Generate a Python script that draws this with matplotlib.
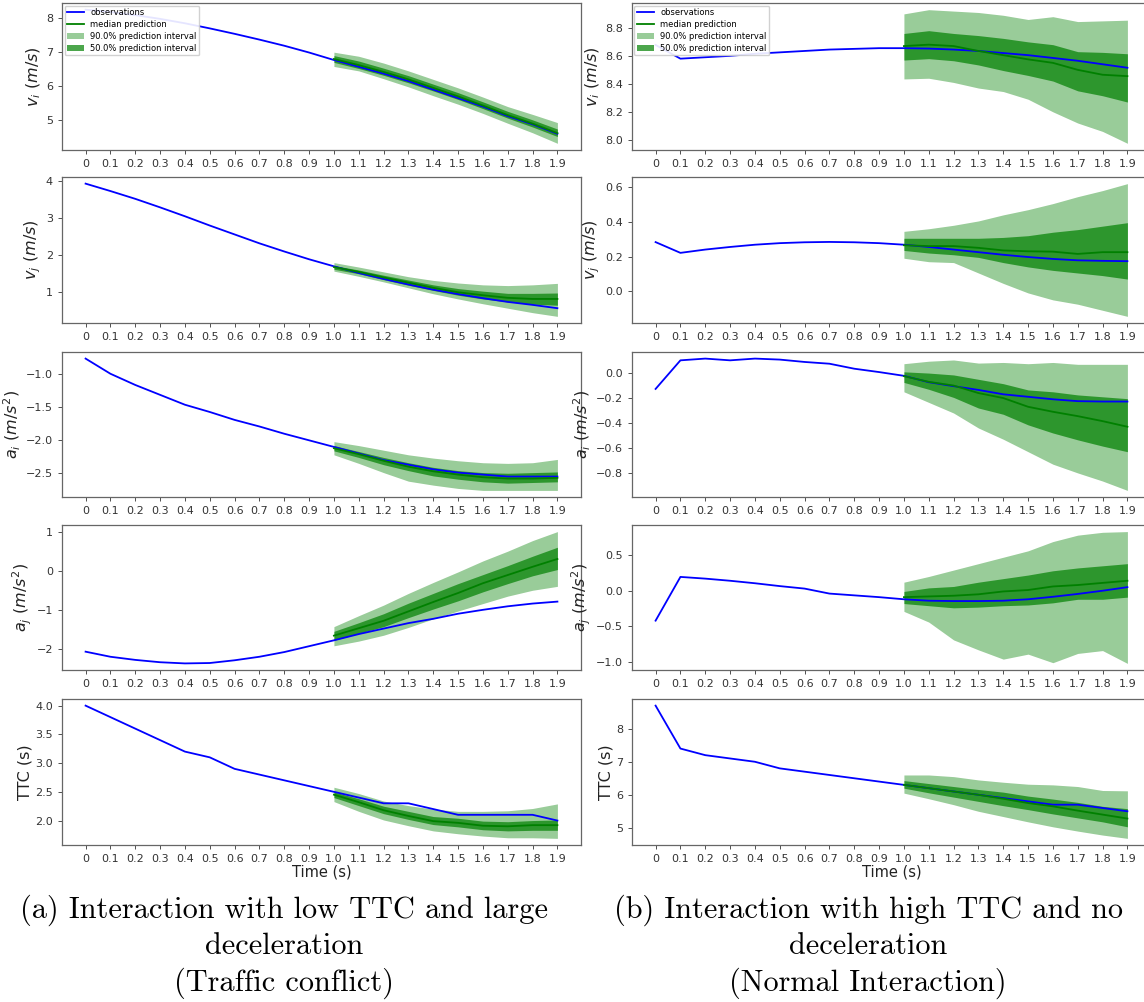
import matplotlib
matplotlib.use("Agg")
import matplotlib.pyplot as plt
import numpy as np

# time axis
time_labels = ['0', '0.1', '0.2', '0.3', '0.4', '0.5', '0.6', '0.7', '0.8', '0.9',
               '1.0', '1.1', '1.2', '1.3', '1.4', '1.5', '1.6', '1.7', '1.8', '1.9']
steps = np.arange(len(time_labels))
pred_steps = steps[10:]

ylabels = [r'$v_i\ (m/s)$', r'$v_j\ (m/s)$', r'$a_i\ (m/s^2)$', r'$a_j\ (m/s^2)$', 'TTC (s)']

# ---- (a) traffic conflict ----
a_vi_obs = [8.25, 8.18, 8.09, 7.98, 7.85, 7.70, 7.54, 7.37, 7.19, 6.99,
            6.77, 6.57, 6.37, 6.15, 5.90, 5.65, 5.40, 5.12, 4.88, 4.60]
a_vi_med = [6.80, 6.62, 6.42, 6.20, 5.95, 5.70, 5.43, 5.15, 4.90, 4.62]
a_vi_50 = ([6.70, 6.52, 6.32, 6.10, 5.86, 5.61, 5.34, 5.06, 4.80, 4.52],
           [6.90, 6.74, 6.53, 6.31, 6.06, 5.81, 5.54, 5.26, 5.01, 4.74])
a_vi_90 = ([6.58, 6.45, 6.22, 5.98, 5.72, 5.47, 5.20, 4.91, 4.63, 4.32],
           [7.00, 6.88, 6.68, 6.45, 6.20, 5.95, 5.68, 5.40, 5.17, 4.93])

a_vj_obs = [3.93, 3.73, 3.52, 3.29, 3.05, 2.80, 2.56, 2.32, 2.10, 1.89,
            1.70, 1.52, 1.36, 1.21, 1.07, 0.95, 0.84, 0.74, 0.66, 0.57]
a_vj_med = [1.68, 1.55, 1.40, 1.26, 1.12, 1.00, 0.92, 0.85, 0.82, 0.82]
a_vj_50 = ([1.62, 1.50, 1.34, 1.19, 1.05, 0.92, 0.82, 0.74, 0.68, 0.65],
           [1.72, 1.60, 1.46, 1.33, 1.20, 1.10, 1.03, 0.97, 0.97, 0.98])
a_vj_90 = ([1.57, 1.43, 1.28, 1.12, 0.96, 0.82, 0.69, 0.57, 0.45, 0.35],
           [1.80, 1.68, 1.55, 1.42, 1.32, 1.25, 1.20, 1.18, 1.20, 1.24])

a_ai_obs = [-0.76, -0.99, -1.16, -1.31, -1.46, -1.57, -1.69, -1.79, -1.90, -2.00,
            -2.10, -2.20, -2.30, -2.37, -2.44, -2.49, -2.52, -2.55, -2.55, -2.55]
a_ai_med = [-2.12, -2.21, -2.31, -2.40, -2.47, -2.52, -2.56, -2.58, -2.58, -2.57]
a_ai_50 = ([-2.16, -2.26, -2.37, -2.46, -2.54, -2.59, -2.63, -2.65, -2.64, -2.63],
           [-2.08, -2.17, -2.26, -2.34, -2.41, -2.46, -2.49, -2.50, -2.49, -2.48])
a_ai_90 = ([-2.22, -2.35, -2.49, -2.62, -2.68, -2.73, -2.76, -2.76, -2.76, -2.76],
           [-2.02, -2.08, -2.15, -2.22, -2.27, -2.31, -2.34, -2.35, -2.34, -2.29])

a_aj_obs = [-2.07, -2.20, -2.28, -2.34, -2.37, -2.36, -2.29, -2.20, -2.08, -1.93,
            -1.78, -1.62, -1.48, -1.34, -1.23, -1.10, -1.00, -0.91, -0.84, -0.79]
a_aj_med = [-1.66, -1.47, -1.28, -1.04, -0.80, -0.57, -0.32, -0.11, 0.10, 0.30]
a_aj_50 = ([-1.78, -1.60, -1.43, -1.20, -0.98, -0.77, -0.54, -0.33, -0.13, 0.03],
           [-1.55, -1.33, -1.10, -0.83, -0.58, -0.33, -0.10, 0.13, 0.37, 0.60])
a_aj_90 = ([-1.92, -1.80, -1.65, -1.45, -1.23, -1.03, -0.84, -0.65, -0.50, -0.40],
           [-1.43, -1.15, -0.88, -0.58, -0.30, -0.03, 0.25, 0.50, 0.77, 1.00])

a_ttc_obs = [4.0, 3.8, 3.6, 3.4, 3.2, 3.1, 2.9, 2.8, 2.7, 2.6,
             2.5, 2.4, 2.3, 2.3, 2.2, 2.1, 2.1, 2.1, 2.1, 2.0]
a_ttc_med = [2.45, 2.32, 2.18, 2.08, 1.99, 1.96, 1.91, 1.90, 1.92, 1.92]
a_ttc_50 = ([2.40, 2.26, 2.12, 2.02, 1.93, 1.89, 1.84, 1.82, 1.83, 1.83],
            [2.50, 2.38, 2.25, 2.16, 2.07, 2.04, 1.99, 1.98, 2.00, 2.01])
a_ttc_90 = ([2.33, 2.16, 2.01, 1.91, 1.82, 1.77, 1.73, 1.70, 1.70, 1.69],
            [2.58, 2.47, 2.34, 2.26, 2.20, 2.16, 2.16, 2.17, 2.21, 2.29])

# ---- (b) normal interaction ----
b_vi_obs = [8.678, 8.58, 8.59, 8.60, 8.615, 8.625, 8.635, 8.645, 8.65, 8.655,
            8.655, 8.652, 8.645, 8.635, 8.62, 8.605, 8.585, 8.565, 8.54, 8.515]
b_vi_med = [8.67, 8.68, 8.67, 8.635, 8.605, 8.575, 8.55, 8.50, 8.465, 8.455]
b_vi_50 = ([8.57, 8.58, 8.565, 8.535, 8.495, 8.46, 8.42, 8.35, 8.315, 8.27],
           [8.76, 8.78, 8.76, 8.745, 8.725, 8.70, 8.68, 8.63, 8.625, 8.615])
b_vi_90 = ([8.435, 8.44, 8.41, 8.37, 8.345, 8.29, 8.20, 8.12, 8.06, 7.975],
           [8.90, 8.93, 8.92, 8.91, 8.89, 8.86, 8.88, 8.845, 8.85, 8.855])

b_vj_obs = [0.283, 0.221, 0.240, 0.255, 0.268, 0.277, 0.282, 0.284, 0.282, 0.277,
            0.268, 0.255, 0.240, 0.225, 0.210, 0.197, 0.186, 0.178, 0.175, 0.173]
b_vj_med = [0.265, 0.26, 0.26, 0.25, 0.235, 0.23, 0.228, 0.215, 0.225, 0.225]
b_vj_50 = ([0.235, 0.22, 0.21, 0.195, 0.165, 0.14, 0.12, 0.105, 0.09, 0.07],
           [0.305, 0.305, 0.305, 0.305, 0.31, 0.32, 0.34, 0.355, 0.375, 0.395])
b_vj_90 = ([0.19, 0.17, 0.165, 0.105, 0.045, -0.01, -0.05, -0.075, -0.11, -0.145],
           [0.345, 0.36, 0.38, 0.405, 0.44, 0.47, 0.505, 0.545, 0.58, 0.62])

b_ai_obs = [-0.127, 0.102, 0.116, 0.102, 0.116, 0.108, 0.089, 0.075, 0.035, 0.008,
            -0.022, -0.073, -0.105, -0.135, -0.17, -0.19, -0.21, -0.225, -0.228, -0.228]
b_ai_med = [-0.025, -0.07, -0.10, -0.16, -0.20, -0.27, -0.31, -0.345, -0.385, -0.43]
b_ai_50 = ([-0.075, -0.13, -0.195, -0.28, -0.33, -0.415, -0.48, -0.535, -0.585, -0.63],
           [0.01, 0.0, -0.015, -0.05, -0.085, -0.135, -0.15, -0.175, -0.19, -0.205])
b_ai_90 = ([-0.15, -0.235, -0.32, -0.44, -0.53, -0.63, -0.73, -0.80, -0.865, -0.94],
           [0.075, 0.095, 0.105, 0.08, 0.085, 0.075, 0.085, 0.07, 0.07, 0.07])

b_aj_obs = [-0.42, 0.194, 0.17, 0.14, 0.105, 0.065, 0.03, -0.04, -0.065, -0.09,
            -0.12, -0.14, -0.145, -0.145, -0.14, -0.12, -0.085, -0.045, 0.0, 0.05]
b_aj_med = [-0.09, -0.08, -0.07, -0.05, -0.01, 0.01, 0.06, 0.08, 0.11, 0.14]
b_aj_50 = ([-0.18, -0.21, -0.24, -0.23, -0.21, -0.20, -0.17, -0.12, -0.12, -0.09],
           [-0.01, 0.04, 0.06, 0.12, 0.17, 0.22, 0.28, 0.32, 0.35, 0.38])
b_aj_90 = ([-0.29, -0.44, -0.69, -0.83, -0.96, -0.89, -1.01, -0.88, -0.84, -1.02],
           [0.12, 0.20, 0.29, 0.38, 0.47, 0.56, 0.69, 0.78, 0.82, 0.83])

b_ttc_obs = [8.7, 7.4, 7.2, 7.1, 7.0, 6.8, 6.7, 6.6, 6.5, 6.4,
             6.3, 6.2, 6.1, 6.0, 5.9, 5.8, 5.7, 5.7, 5.6, 5.5]
b_ttc_med = [6.30, 6.20, 6.10, 6.00, 5.88, 5.75, 5.65, 5.52, 5.40, 5.28]
b_ttc_50 = ([6.20, 6.06, 5.93, 5.80, 5.67, 5.55, 5.42, 5.30, 5.18, 5.03],
            [6.43, 6.34, 6.25, 6.16, 6.08, 5.96, 5.87, 5.77, 5.65, 5.58])
b_ttc_90 = ([6.05, 5.88, 5.70, 5.50, 5.34, 5.18, 5.03, 4.90, 4.78, 4.68],
            [6.60, 6.60, 6.55, 6.45, 6.38, 6.32, 6.30, 6.25, 6.13, 6.12])

panels_a = [(a_vi_obs, a_vi_med, a_vi_50, a_vi_90), (a_vj_obs, a_vj_med, a_vj_50, a_vj_90),
            (a_ai_obs, a_ai_med, a_ai_50, a_ai_90), (a_aj_obs, a_aj_med, a_aj_50, a_aj_90),
            (a_ttc_obs, a_ttc_med, a_ttc_50, a_ttc_90)]
panels_b = [(b_vi_obs, b_vi_med, b_vi_50, b_vi_90), (b_vj_obs, b_vj_med, b_vj_50, b_vj_90),
            (b_ai_obs, b_ai_med, b_ai_50, b_ai_90), (b_aj_obs, b_aj_med, b_aj_50, b_aj_90),
            (b_ttc_obs, b_ttc_med, b_ttc_50, b_ttc_90)]

W, H = 1144, 1002
fig = plt.figure(figsize=(W / 100, H / 100), dpi=100)

tops = [3, 177, 352, 525, 699]
bottoms = [150, 323, 497, 670, 845]
columns = [(62, 581), (632, 1151)]

for col, panels in enumerate([panels_a, panels_b]):
    x0, x1 = columns[col]
    for row, (obs, med, p50, p90) in enumerate(panels):
        ax = fig.add_axes([x0 / W, 1 - bottoms[row] / H, (x1 - x0) / W, (bottoms[row] - tops[row]) / H])
        ax.plot(steps, obs, color='blue', lw=1.3, label='observations')
        ax.plot(pred_steps, med, color='green', lw=1.3, label='median prediction')
        ax.fill_between(pred_steps, p90[0], p90[1], color='green', alpha=0.4, lw=0,
                        label='90.0% prediction interval')
        ax.fill_between(pred_steps, p50[0], p50[1], color='green', alpha=0.7, lw=0,
                        label='50.0% prediction interval')
        ax.set_xticks(steps)
        ax.set_xticklabels(time_labels)
        ax.tick_params(labelsize=8, length=3, width=0.6, colors='#333333')
        ax.set_ylabel(ylabels[row], fontsize=11.5, color='#222222', labelpad=2)
        for s in ax.spines.values():
            s.set_color('#666666')
            s.set_linewidth(0.9)
        if row == 0:
            ax.legend(loc='upper left', fontsize=6, borderaxespad=0.3, handlelength=2.0,
                      labelspacing=0.35, borderpad=0.3, framealpha=0.9)
        if row == 4:
            ax.set_xlabel('Time (s)', fontsize=10.5, labelpad=0, color='#222222')

captions = [(284, ['(a) Interaction with low TTC and large', 'deceleration', '(Traffic conflict)']),
            (868, ['(b) Interaction with high TTC and no', 'deceleration', '(Normal Interaction)'])]
line_y = [910, 946, 983]
for cx, lines in captions:
    for ly, txt in zip(line_y, lines):
        fig.text(cx / W, 1 - ly / H, txt, family='cmr10', fontsize=21.8, ha='center', va='center')

fig.savefig('out.png', dpi=100)
